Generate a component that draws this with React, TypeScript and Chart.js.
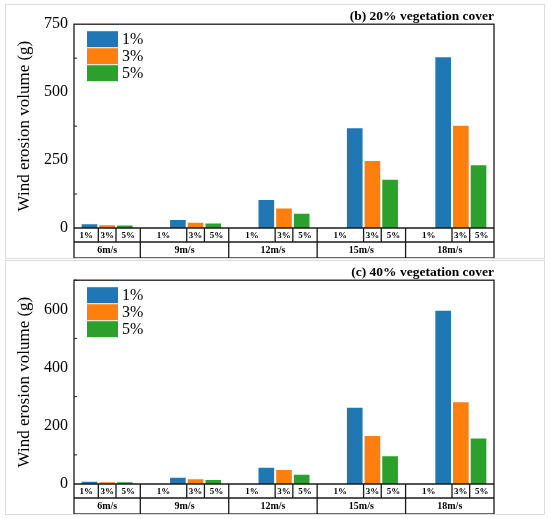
import { useEffect, useRef } from 'react';
import { Chart, registerables } from 'chart.js';

Chart.register(...registerables);

// wind speeds (groups) and stubble cover (series)
const speeds = ['6m/s', '9m/s', '12m/s', '15m/s', '18m/s'];
const covers = ['1%', '3%', '5%'];
const colors = ['#1f77b4', '#ff7f0e', '#2ca02c'];

// (b) 20% vegetation cover
const veg20_1 = [13, 28, 102, 366, 627];
const veg20_3 = [9, 18, 71, 245, 375];
const veg20_5 = [8, 15, 51, 176, 230];

// (c) 40% vegetation cover
const veg40_1 = [7, 20, 55, 261, 594];
const veg40_3 = [5, 15, 47, 164, 280];
const veg40_5 = [5, 13, 31, 94, 155];

const FONT = "'Liberation Serif', 'Times New Roman', serif";
const barOffsets = [-0.2, 0, 0.2];
const tableRow = 14;
const tableHeight = 30;

const tablePlugin = {
  id: 'tableAxis',
  afterDraw(chart: any) {
    const { ctx, chartArea, scales } = chart;
    const { left, right, top, bottom } = chartArea;
    const x = scales.x;
    const y = scales.y;
    const major = chart.options.plugins.tableAxis.major;
    const tBottom = bottom + tableHeight;
    const mid = bottom + tableRow;

    ctx.save();
    ctx.strokeStyle = '#1a1a1a';
    ctx.lineWidth = 1.3;

    // frame + table outline
    ctx.strokeRect(left, top, right - left, tBottom - top);
    ctx.beginPath();
    ctx.moveTo(left, bottom);
    ctx.lineTo(right, bottom);
    ctx.moveTo(left, mid);
    ctx.lineTo(right, mid);
    ctx.stroke();

    // minor ticks on the y axis, pointing inwards
    ctx.lineWidth = 1;
    y.ticks.forEach((t: any) => {
      if (t.value % major === 0) return;
      const py = y.getPixelForValue(t.value);
      ctx.beginPath();
      ctx.moveTo(left, py);
      ctx.lineTo(left + 3, py);
      ctx.stroke();
    });

    ctx.lineWidth = 1.3;
    ctx.fillStyle = '#000';
    ctx.textAlign = 'center';
    ctx.textBaseline = 'middle';

    speeds.forEach((s, i) => {
      const gl = Math.max(x.getPixelForValue(i - 0.625), left);
      const gr = Math.min(x.getPixelForValue(i + 0.375), right);
      const c1 = x.getPixelForValue(i - 0.1);
      const c2 = x.getPixelForValue(i + 0.1);

      ctx.beginPath();
      if (gr < right - 1) {
        ctx.moveTo(gr, bottom);
        ctx.lineTo(gr, tBottom);
      }
      ctx.moveTo(c1, bottom);
      ctx.lineTo(c1, mid);
      ctx.moveTo(c2, bottom);
      ctx.lineTo(c2, mid);
      ctx.stroke();

      ctx.font = `bold 9px ${FONT}`;
      const cells = [
        [gl, c1],
        [c1, c2],
        [c2, gr],
      ];
      cells.forEach(([a, b], k) => {
        ctx.fillText(covers[k], (a + b) / 2, bottom + tableRow / 2 + 0.5);
      });

      ctx.font = `bold 10px ${FONT}`;
      ctx.fillText(s, (gl + gr) / 2, mid + (tableHeight - tableRow) / 2 + 0.5);
    });

    // legend inside the plot
    const lx = left + 13;
    let ly = top + 7;
    ctx.textAlign = 'left';
    ctx.font = `16px ${FONT}`;
    chart.data.datasets.forEach((ds: any) => {
      ctx.fillStyle = ds.backgroundColor;
      ctx.fillRect(lx, ly, 31, 16);
      ctx.fillStyle = '#000';
      ctx.fillText(ds.label, lx + 35, ly + 8.5);
      ly += 17;
    });

    ctx.restore();
  },
};

interface PanelProps {
  title: string;
  series: number[][];
  max: number;
  major: number;
}

const Panel: React.FC<PanelProps> = ({ title, series, max, major }) => {
  const canvasRef = useRef<HTMLCanvasElement>(null);

  useEffect(() => {
    if (!canvasRef.current) return;
    const chart = new Chart(canvasRef.current, {
      type: 'bar',
      data: {
        datasets: covers.map((c, k) => ({
          label: c,
          data: series[k].map((v, i) => ({ x: i + barOffsets[k], y: v })),
          backgroundColor: colors[k],
          barThickness: 15,
          grouped: false,
        })),
      },
      options: {
        animation: false,
        responsive: false,
        devicePixelRatio: 1,
        layout: { padding: { left: 0, right: 50, top: 0, bottom: 0 } },
        plugins: {
          legend: { display: false },
          tooltip: { enabled: false },
          title: {
            display: true,
            text: title,
            align: 'end',
            color: '#000',
            font: { family: FONT, size: 13.5, weight: 'bold' },
            padding: { top: 3, bottom: 0 },
          },
          tableAxis: { major },
        } as any,
        scales: {
          x: {
            type: 'linear',
            min: -0.375,
            max: 4.375,
            offset: false,
            ticks: { display: false },
            grid: { display: false },
            border: { display: false },
            afterFit: (s: any) => {
              s.height = tableHeight;
            },
          },
          y: {
            min: 0,
            max,
            ticks: {
              stepSize: major / 2,
              color: '#000',
              padding: 6,
              font: { family: FONT, size: 16 },
              callback: (v: any) => (v % major === 0 ? v : ''),
            },
            grid: { display: false, drawTicks: false },
            border: { display: false },
            title: {
              display: true,
              text: 'Wind erosion volume (g)',
              color: '#000',
              font: { family: FONT, size: 17 },
              padding: { top: 8, bottom: 0 },
            },
            afterFit: (s: any) => {
              s.width = 68;
            },
          },
        },
      },
      plugins: [tablePlugin],
    });
    return () => chart.destroy();
  }, [title, series, max, major]);

  return <canvas ref={canvasRef} width={538} height={253} style={{ display: 'block' }} />;
};

const panelStyle = (top: number): React.CSSProperties => ({
  position: 'absolute',
  left: 5,
  top,
  width: 538,
  height: 253,
  border: '1px solid #dcdcdc',
  background: '#fff',
});

export default function App() {
  return (
    <div style={{ position: 'absolute', left: 0, top: 0, width: 550, height: 519, background: '#fff' }}>
      <div style={panelStyle(4)}>
        <Panel
          title="(b) 20% vegetation cover"
          series={[veg20_1, veg20_3, veg20_5]}
          max={750}
          major={250}
        />
      </div>
      <div style={panelStyle(260)}>
        <Panel
          title="(c) 40% vegetation cover"
          series={[veg40_1, veg40_3, veg40_5]}
          max={700}
          major={200}
        />
      </div>
    </div>
  );
}
